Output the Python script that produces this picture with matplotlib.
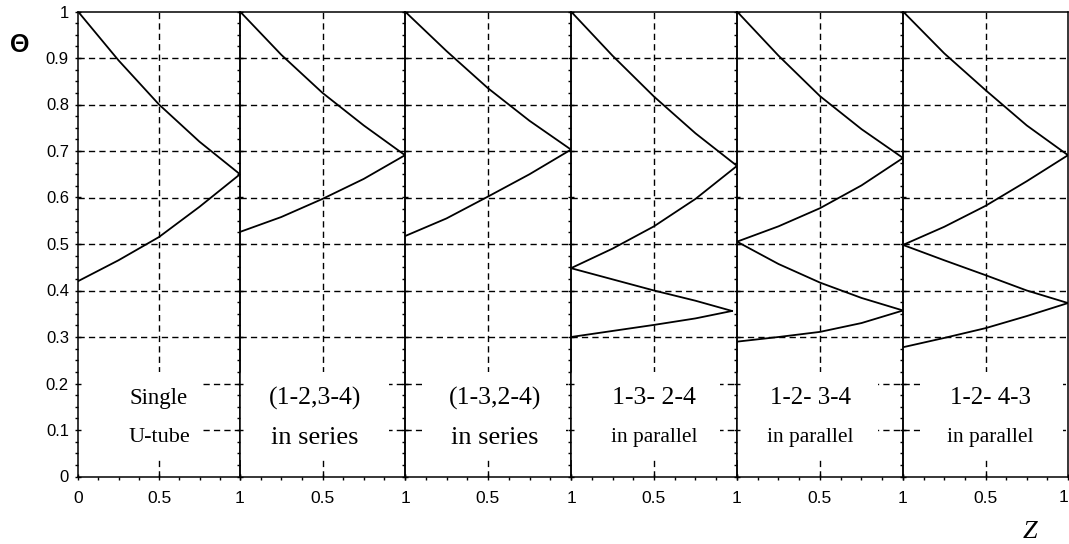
import matplotlib

matplotlib.use("Agg")
import matplotlib.pyplot as plt
from matplotlib.patches import Rectangle
from matplotlib.ticker import FixedLocator, FuncFormatter, MultipleLocator

Z = [0.0, 0.25, 0.5, 0.75, 1.0]
Z_TIP = [0.0, 0.25, 0.5, 0.75, 0.97]

# panel 1: single U-tube
P1_DOWN = [1.0, 0.895, 0.80, 0.72, 0.65]
P1_UP = [0.42, 0.465, 0.515, 0.58, 0.65]

# panel 2: (1-2,3-4) in series
P2_DOWN = [1.0, 0.907, 0.825, 0.755, 0.691]
P2_UP = [0.526, 0.558, 0.597, 0.64, 0.691]

# panel 3: (1-3,2-4) in series
P3_DOWN = [1.0, 0.915, 0.835, 0.765, 0.703]
P3_UP = [0.517, 0.555, 0.602, 0.65, 0.703]

# panel 4: 1-3- 2-4 in parallel
P4_DOWN = [1.0, 0.905, 0.817, 0.738, 0.668]
P4_UP = [0.448, 0.49, 0.538, 0.597, 0.668]
P4_DOWN2 = [0.448, 0.424, 0.40, 0.378, 0.356]
P4_UP2 = [0.30, 0.313, 0.326, 0.34, 0.356]

# panel 5: 1-2- 3-4 in parallel
P5_DOWN = [1.0, 0.905, 0.818, 0.747, 0.685]
P5_UP = [0.505, 0.538, 0.577, 0.626, 0.685]
P5_DOWN2 = [0.505, 0.457, 0.417, 0.384, 0.357]
P5_UP2 = [0.29, 0.30, 0.311, 0.33, 0.357]

# panel 6: 1-2- 4-3 in parallel
P6_DOWN = [1.0, 0.91, 0.831, 0.755, 0.691]
P6_UP = [0.498, 0.537, 0.582, 0.635, 0.691]
P6_DOWN2 = [0.498, 0.465, 0.433, 0.40, 0.373]
P6_UP2 = [0.278, 0.298, 0.319, 0.345, 0.373]

LINE1 = ["Single", "(1-2,3-4)", "(1-3,2-4)", "1-3- 2-4", "1-2- 3-4", "1-2- 4-3"]
LINE2 = ["U-tube", "in series", "in series", "in parallel", "in parallel", "in parallel"]

PANELS = [
    [(Z, P1_DOWN), (Z, P1_UP)],
    [(Z, P2_DOWN), (Z, P2_UP)],
    [(Z, P3_DOWN), (Z, P3_UP)],
    [(Z, P4_DOWN), (Z, P4_UP), (Z_TIP, P4_DOWN2), (Z_TIP, P4_UP2)],
    [(Z, P5_DOWN), (Z, P5_UP), (Z, P5_DOWN2), (Z, P5_UP2)],
    [(Z, P6_DOWN), (Z, P6_UP), (Z, P6_DOWN2), (Z, P6_UP2)],
]

W, H = 1069, 544
EDGES = [78, 240, 405, 571, 737, 903, 1068]
Y_TOP, Y_BOT = 11.5, 476.5

# caption areas (white boxes hiding the grid), per panel
BOX_X = [(0.0, 0.77), (0.0, 0.9), (0.1, 0.97), (0.0, 0.9), (0.0, 0.85), (0.1, 0.97)]
TEXT_X = [0.5, 0.455, 0.54, 0.5, 0.44, 0.53]
LINE1_SIZE = [16.5, 18.5, 18.5, 18.5, 18, 18]
LINE2_SIZE = [16, 19, 19, 15.5, 15.5, 15.5]

SERIF = "Liberation Serif"
SANS = "Liberation Sans"
plt.rcParams["font.family"] = [SANS, "DejaVu Sans"]

fig = plt.figure(figsize=(W / 100, H / 100), dpi=100)

n_panels = len(PANELS)
for i, curves in enumerate(PANELS):
    left, right = EDGES[i], EDGES[i + 1]
    ax = fig.add_axes([left / W, (H - Y_BOT) / H, (right - left) / W, (Y_BOT - Y_TOP) / H])
    ax.set_xlim(0, 1)
    ax.set_ylim(0, 1)
    ax.patch.set_alpha(0)

    for k in range(1, 10):
        ax.axhline(k / 10, color="black", lw=1.0, ls=(0, (4.5, 3)), zorder=1)
    ax.axvline(0.5, color="black", lw=1.0, ls=(0, (4.5, 3)), zorder=1)

    x0, x1 = BOX_X[i]
    ax.add_patch(Rectangle((x0, 0.035), x1 - x0, 0.19, transform=ax.transAxes,
                           facecolor="white", edgecolor="none", zorder=1.5))

    for zs, vals in curves:
        ax.plot(zs, vals, color="black", lw=1.3, zorder=3, solid_joinstyle="round")

    ax.text(TEXT_X[i], 0.168, LINE1[i], ha="center", va="center",
            family=SERIF, fontsize=LINE1_SIZE[i], zorder=4)
    ax.text(TEXT_X[i], 0.083, LINE2[i], ha="center", va="center",
            family=SERIF, fontsize=LINE2_SIZE[i], zorder=4)

    for side in ax.spines.values():
        side.set_linewidth(1.1)
        side.set_zorder(5)

    last = i == n_panels - 1
    ax.xaxis.set_major_locator(FixedLocator([0, 0.5, 1]))
    ax.xaxis.set_minor_locator(MultipleLocator(0.125))
    ax.set_xticklabels(["0" if i == 0 else "", "0.5", "" if last else "1"])
    if last:
        # the final "1" sits against the right edge of the picture
        ax.text(1.0, -0.03, "1", transform=ax.transAxes, ha="right", va="top", fontsize=12.5)
    ax.yaxis.set_major_locator(MultipleLocator(0.1))
    ax.yaxis.set_minor_locator(MultipleLocator(0.025))
    ax.yaxis.set_major_formatter(FuncFormatter(lambda v, _: f"{round(v, 2):g}"))

    ax.tick_params(axis="x", which="major", direction="inout", length=5, width=1, pad=8, labelsize=12.5)
    ax.tick_params(axis="x", which="minor", direction="out", length=2.5, width=1)
    ax.tick_params(axis="y", which="major", direction="inout", length=5, width=1, pad=4, labelsize=12)
    ax.tick_params(axis="y", which="minor", direction="out", length=2.5, width=1)
    ax.tick_params(labelleft=(i == 0))

fig.text(20 / W, 1 - 45 / H, "Θ", ha="center", va="center", fontsize=18, fontweight="bold")
fig.text(1030 / W, 1 - 532 / H, "Z", ha="center", va="center",
         family=SERIF, style="italic", fontsize=19)

fig.savefig("out.png", dpi=100)
plt.close(fig)
